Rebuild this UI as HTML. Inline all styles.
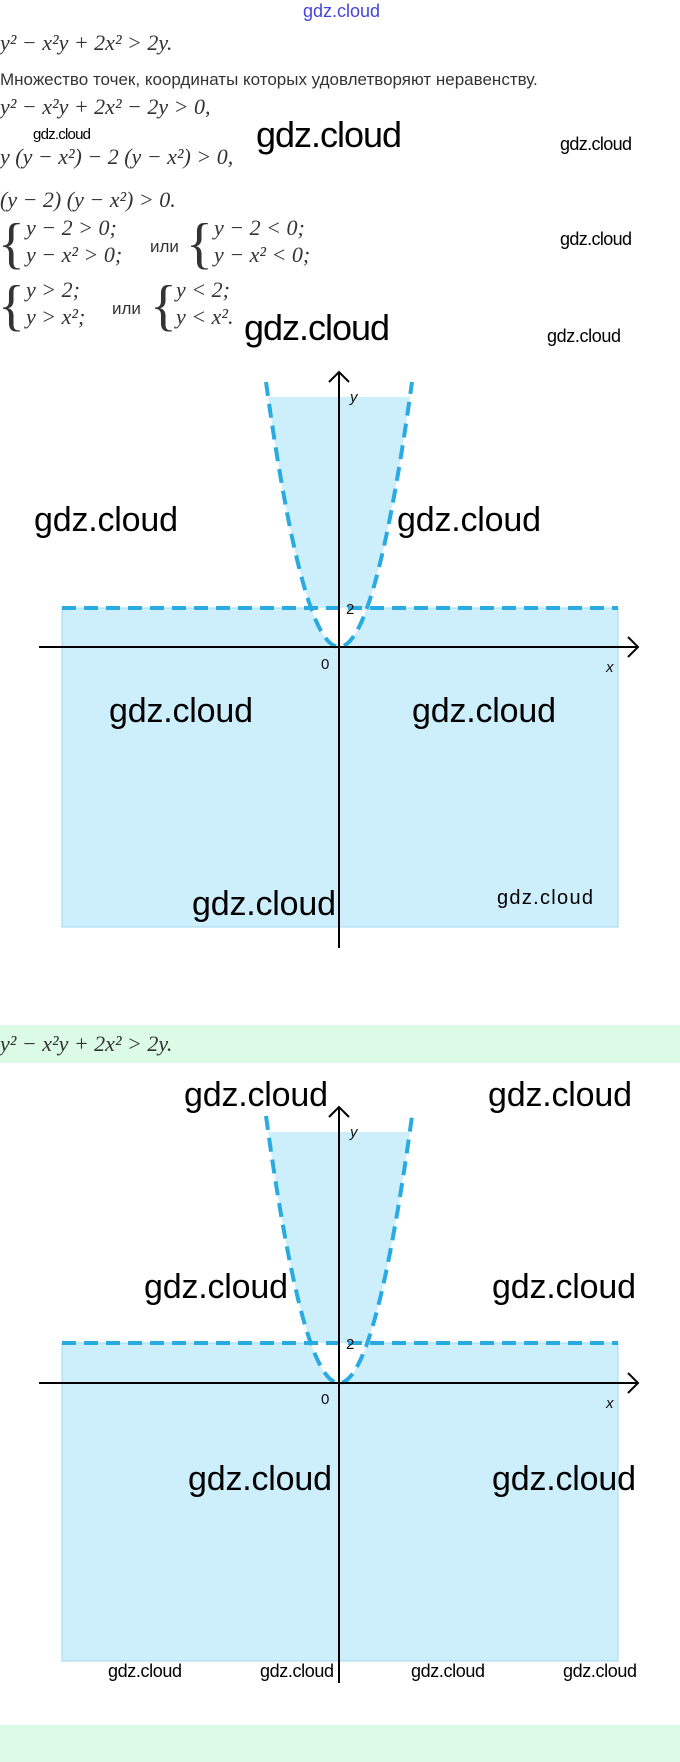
<!DOCTYPE html>
<html><head><meta charset="utf-8"><style>
html,body{margin:0;padding:0;background:#fff;}
svg{display:block;}
.m{font-family:"Liberation Serif",serif;font-style:italic;font-size:22px;fill:#333;}
.b{font-family:"Liberation Serif",serif;font-size:56px;fill:#333;}
.r{font-family:"Liberation Sans",sans-serif;font-size:17px;fill:#333;}
.w{font-family:"Liberation Sans",sans-serif;fill:#000;}
.ax{font-family:"Liberation Sans",sans-serif;font-size:15px;fill:#111;}
</style></head><body>
<svg width="680" height="1762" viewBox="0 0 680 1762" xmlns="http://www.w3.org/2000/svg">
<defs>
<clipPath id="c1a"><rect x="0" y="397" width="680" height="211"/></clipPath>
<clipPath id="c1b"><rect x="0" y="608" width="680" height="39"/></clipPath>
<clipPath id="c2a"><rect x="0" y="1132" width="680" height="211"/></clipPath>
<clipPath id="c2b"><rect x="0" y="1343" width="680" height="40"/></clipPath>
</defs>
<text x="303" y="17" font-family="Liberation Sans,sans-serif" font-size="18" fill="#4444dd">gdz.cloud</text>
<text class="m" x="0" y="50">y² − x²y + 2x² &gt; 2y.</text>
<text class="r" x="0" y="85">Множество точек, координаты которых удовлетворяют неравенству.</text>
<text class="m" x="0" y="114">y² − x²y + 2x² − 2y &gt; 0,</text>
<text class="w" x="33" y="139" font-size="15" textLength="58">gdz.cloud</text>
<text class="m" x="0" y="164">y (y − x²) − 2 (y − x²) &gt; 0,</text>
<text class="w" x="256" y="147" font-size="36" textLength="146">gdz.cloud</text>
<text class="w" x="560" y="150" font-size="18" textLength="72">gdz.cloud</text>
<text class="m" x="0" y="207">(y − 2) (y − x²) &gt; 0.</text>
<text class="b" x="-2" y="262">{</text>
<text class="m" x="26" y="235">y − 2 &gt; 0;</text>
<text class="m" x="26" y="262">y − x² &gt; 0;</text>
<text class="r" x="150" y="252">или</text>
<text class="b" x="186" y="262">{</text>
<text class="m" x="214" y="235">y − 2 &lt; 0;</text>
<text class="m" x="214" y="262">y − x² &lt; 0;</text>
<text class="w" x="560" y="245" font-size="18" textLength="72">gdz.cloud</text>
<text class="b" x="-2" y="324">{</text>
<text class="m" x="26" y="297">y &gt; 2;</text>
<text class="m" x="26" y="324">y &gt; x²;</text>
<text class="r" x="112" y="314">или</text>
<text class="b" x="150" y="324">{</text>
<text class="m" x="176" y="297">y &lt; 2;</text>
<text class="m" x="176" y="324">y &lt; x².</text>
<text class="w" x="244" y="340" font-size="36" textLength="146">gdz.cloud</text>
<text class="w" x="547" y="342" font-size="18" textLength="74">gdz.cloud</text>

<!-- graph 1 -->
<rect x="62" y="608" width="556" height="319" fill="#cdeefb" stroke="#9fd8f0" stroke-width="1"/>
<path d="M266,382 Q339,912 412,382 Z" fill="#fff" clip-path="url(#c1b)"/>
<path d="M266,382 Q339,912 412,382 Z" fill="#cdeefb" clip-path="url(#c1a)"/>
<line x1="62" y1="608" x2="618" y2="608" stroke="#29abe2" stroke-width="4" stroke-dasharray="14 8"/>
<path d="M266,382 Q339,912 412,382" fill="none" stroke="#29abe2" stroke-width="4" stroke-dasharray="14 8"/>
<line x1="39" y1="647" x2="638" y2="647" stroke="#000" stroke-width="2"/>
<polyline points="628,637 638,647 628,657" fill="none" stroke="#000" stroke-width="2"/>
<line x1="339" y1="372" x2="339" y2="948" stroke="#000" stroke-width="2"/>
<polyline points="329,382 339,372 349,382" fill="none" stroke="#000" stroke-width="2"/>
<text class="ax" x="350" y="402" font-style="italic">y</text>
<text class="ax" x="606" y="672" font-style="italic">x</text>
<text class="ax" x="321" y="669">0</text>
<text class="ax" x="346" y="614">2</text>
<text class="w" x="34" y="531" font-size="34" textLength="144">gdz.cloud</text>
<text class="w" x="397" y="531" font-size="34" textLength="144">gdz.cloud</text>
<text class="w" x="109" y="722" font-size="34" textLength="144">gdz.cloud</text>
<text class="w" x="412" y="722" font-size="34" textLength="144">gdz.cloud</text>
<text class="w" x="192" y="915" font-size="34" textLength="144">gdz.cloud</text>
<text class="w" x="497" y="904" font-size="20" textLength="96">gdz.cloud</text>

<!-- band -->
<rect x="0" y="1025" width="680" height="38" fill="#dcfbe6"/>
<text class="m" x="0" y="1051">y² − x²y + 2x² &gt; 2y.</text>

<!-- graph 2 -->
<rect x="62" y="1343" width="556" height="318" fill="#cdeefb" stroke="#9fd8f0" stroke-width="1"/>
<path d="M266,1116 Q339,1650 412,1116 Z" fill="#fff" clip-path="url(#c2b)"/>
<path d="M266,1116 Q339,1650 412,1116 Z" fill="#cdeefb" clip-path="url(#c2a)"/>
<line x1="62" y1="1343" x2="618" y2="1343" stroke="#29abe2" stroke-width="4" stroke-dasharray="14 8"/>
<path d="M266,1116 Q339,1650 412,1116" fill="none" stroke="#29abe2" stroke-width="4" stroke-dasharray="14 8"/>
<line x1="39" y1="1383" x2="638" y2="1383" stroke="#000" stroke-width="2"/>
<polyline points="628,1373 638,1383 628,1393" fill="none" stroke="#000" stroke-width="2"/>
<line x1="339" y1="1107" x2="339" y2="1683" stroke="#000" stroke-width="2"/>
<polyline points="329,1117 339,1107 349,1117" fill="none" stroke="#000" stroke-width="2"/>
<text class="ax" x="350" y="1137" font-style="italic">y</text>
<text class="ax" x="606" y="1408" font-style="italic">x</text>
<text class="ax" x="321" y="1404">0</text>
<text class="ax" x="346" y="1349">2</text>
<text class="w" x="184" y="1106" font-size="34" textLength="144">gdz.cloud</text>
<text class="w" x="488" y="1106" font-size="34" textLength="144">gdz.cloud</text>
<text class="w" x="144" y="1298" font-size="34" textLength="144">gdz.cloud</text>
<text class="w" x="492" y="1298" font-size="34" textLength="144">gdz.cloud</text>
<text class="w" x="188" y="1490" font-size="34" textLength="144">gdz.cloud</text>
<text class="w" x="492" y="1490" font-size="34" textLength="144">gdz.cloud</text>
<text class="w" x="108" y="1677" font-size="18" textLength="74">gdz.cloud</text>
<text class="w" x="260" y="1677" font-size="18" textLength="74">gdz.cloud</text>
<text class="w" x="411" y="1677" font-size="18" textLength="74">gdz.cloud</text>
<text class="w" x="563" y="1677" font-size="18" textLength="74">gdz.cloud</text>

<rect x="0" y="1725" width="680" height="37" fill="#dcfbe6"/>
</svg>
</body></html>
